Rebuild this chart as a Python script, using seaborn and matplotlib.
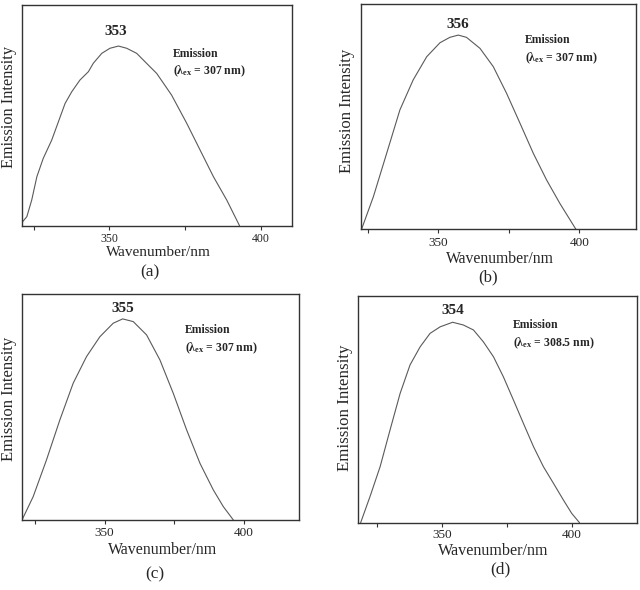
import matplotlib
matplotlib.use("Agg")
import matplotlib.pyplot as plt
import numpy as np
import pandas as pd
import seaborn as sns

# ---------------- data ----------------
wl_a = [321.4, 322.8, 324.4, 326.1, 328.2, 331.0, 333.2, 335.4, 337.6, 340.3, 343.1, 344.7,
        347.5, 350.2, 353.0, 355.7, 359.0, 362.9, 365.6, 370.5, 375.5, 379.9, 384.3,
        388.7, 392.9]
int_a = [0.018, 0.041, 0.116, 0.222, 0.305, 0.388, 0.471, 0.554, 0.607, 0.660, 0.698, 0.736,
         0.781, 0.804, 0.814, 0.804, 0.781, 0.727, 0.690, 0.592, 0.464, 0.343, 0.222,
         0.116, 0.0]

wl_b = [322.8, 327.0, 331.7, 336.4, 341.1, 345.9, 350.6, 354.1, 357.1, 360.0, 364.8, 369.5,
        374.2, 379.0, 383.7, 388.4, 393.1, 398.8]
int_b = [0.0, 0.145, 0.337, 0.530, 0.663, 0.766, 0.828, 0.852, 0.862, 0.852, 0.803, 0.722,
         0.604, 0.470, 0.337, 0.219, 0.115, 0.0]

wl_c = [320.3, 324.3, 329.1, 333.9, 338.7, 343.5, 348.3, 353.1, 356.5, 360.3, 365.1, 369.9,
        374.7, 379.5, 384.3, 389.1, 392.7, 396.3]
int_c = [0.0, 0.103, 0.266, 0.443, 0.606, 0.724, 0.812, 0.872, 0.891, 0.879, 0.820, 0.709,
         0.561, 0.399, 0.251, 0.133, 0.059, 0.0]

wl_d = [318.8, 322.4, 326.3, 330.1, 334.0, 337.8, 341.7, 345.5, 349.4, 354.2, 358.3, 362.2,
        366.0, 369.9, 373.7, 377.6, 381.4, 385.3, 389.1, 393.0, 396.8, 400.0, 403.0]
int_d = [0.0, 0.115, 0.247, 0.408, 0.570, 0.695, 0.775, 0.834, 0.863, 0.883, 0.871, 0.849,
         0.797, 0.731, 0.643, 0.540, 0.438, 0.335, 0.247, 0.173, 0.100, 0.041, 0.0]

panel_labels = ["(a)", "(b)", "(c)", "(d)"]
peak_labels = ["353", "356", "355", "354"]
ex_labels = ["307", "307", "307", "308.5"]
major_ticks = [350, 400]
minor_ticks = [325, 375]
xlabel_text = "Wavenumber/nm"
ylabel_text = "Emission Intensity"

# ---------------- layout (pixels) ----------------
W, H = 640, 590
boxes = [(22, 5, 292, 225.7), (360.7, 4, 636, 229.3),
         (22, 294.3, 299, 520), (358.3, 295.7, 636.7, 522.7)]
xlims = [(321.2, 410.2), (322.5, 420.1), (320.3, 419.9), (317.9, 425.0)]
xlab_pos = [(158, 256), (500, 263), (162.5, 553.5), (493, 555)]   # baseline
ylab_pos = [(9, 107), (347, 111), (9, 399), (345, 408)]
panel_pos = [(150, 272), (488, 277), (155, 574), (500, 569)]
peak_pos = [(116, 31.5), (457.5, 25), (122.5, 308), (452.5, 311)]
emis_pos = [(172.7, 54, 71), (525, 40, 58), (185, 330, 348), (512.7, 325, 343)]
tick_pad = [2.0, 2.8, 2.4, 1.8]
tick_size = [8.5, 9.5, 9.5, 9.5]
xlab_size = [11.0, 11.3, 11.4, 11.6]
ylab_size = [11.7, 12.0, 12.0, 12.2]
panel_size = [12.5, 12.0, 12.5, 12.5]

sns.set_theme(style="white")
plt.rcParams["font.family"] = ["Liberation Serif", "DejaVu Serif"]
plt.rcParams["mathtext.fontset"] = "custom"
plt.rcParams["mathtext.rm"] = "Liberation Serif"
plt.rcParams["mathtext.bf"] = "Liberation Serif:bold"
plt.rcParams["mathtext.it"] = "Liberation Serif:italic"

fig = plt.figure(figsize=(W / 100, H / 100), dpi=100)

def fx(x):
    return x / W

def fy(y):
    return 1 - y / H

series = [(wl_a, int_a), (wl_b, int_b), (wl_c, int_c), (wl_d, int_d)]

for i, (wl, inten) in enumerate(series):
    l, t, r, b = boxes[i]
    ax = fig.add_axes([fx(l), fy(b), (r - l) / W, (b - t) / H])
    df = pd.DataFrame({"wl": wl, "I": inten})
    sns.lineplot(data=df, x="wl", y="I", ax=ax, color="#5a5a5a", linewidth=0.8,
                 sort=False, estimator=None)
    ax.set_xlim(*xlims[i])
    ax.set_ylim(0, 1)
    ax.set_yticks([])
    ax.set_xticks(major_ticks)
    ax.set_xticks(minor_ticks, minor=True)
    ax.tick_params(axis="x", which="both", direction="out", length=3, width=0.8,
                   color="#333333", pad=tick_pad[i], labelsize=tick_size[i], bottom=True)
    for sp in ax.spines.values():
        sp.set_color("#333333")
        sp.set_linewidth(1.0)

    ax.set_xlabel(xlabel_text, fontsize=xlab_size[i])
    ax.set_ylabel(ylabel_text, fontsize=ylab_size[i])
    xlx = (xlab_pos[i][0] - l) / (r - l)
    xly = (b - xlab_pos[i][1]) / (b - t)
    ax.xaxis.label.set_va("baseline")
    ax.xaxis.set_label_coords(xlx, xly)
    ylx = (ylab_pos[i][0] - l) / (r - l)
    yly = (b - ylab_pos[i][1]) / (b - t)
    ax.yaxis.label.set_va("center")
    ax.yaxis.set_label_coords(ylx, yly)

    fig.text(fx(panel_pos[i][0]), fy(panel_pos[i][1]), panel_labels[i],
             ha="center", va="center", fontsize=panel_size[i])
    fig.text(fx(peak_pos[i][0]), fy(peak_pos[i][1]), peak_labels[i],
             ha="center", va="center", fontsize=11, fontweight="bold")
    ex, ey1, ey2 = emis_pos[i]
    fig.text(fx(ex), fy(ey1), "Emission", ha="left", va="center",
             fontsize=8.5, fontweight="bold")
    fig.text(fx(ex), fy(ey2),
             "(λ$_{\\mathbf{ex}}$ = " + ex_labels[i] + " nm)",
             ha="left", va="center", fontsize=8.5, fontweight="bold")

fig.savefig("out.png", dpi=100)
